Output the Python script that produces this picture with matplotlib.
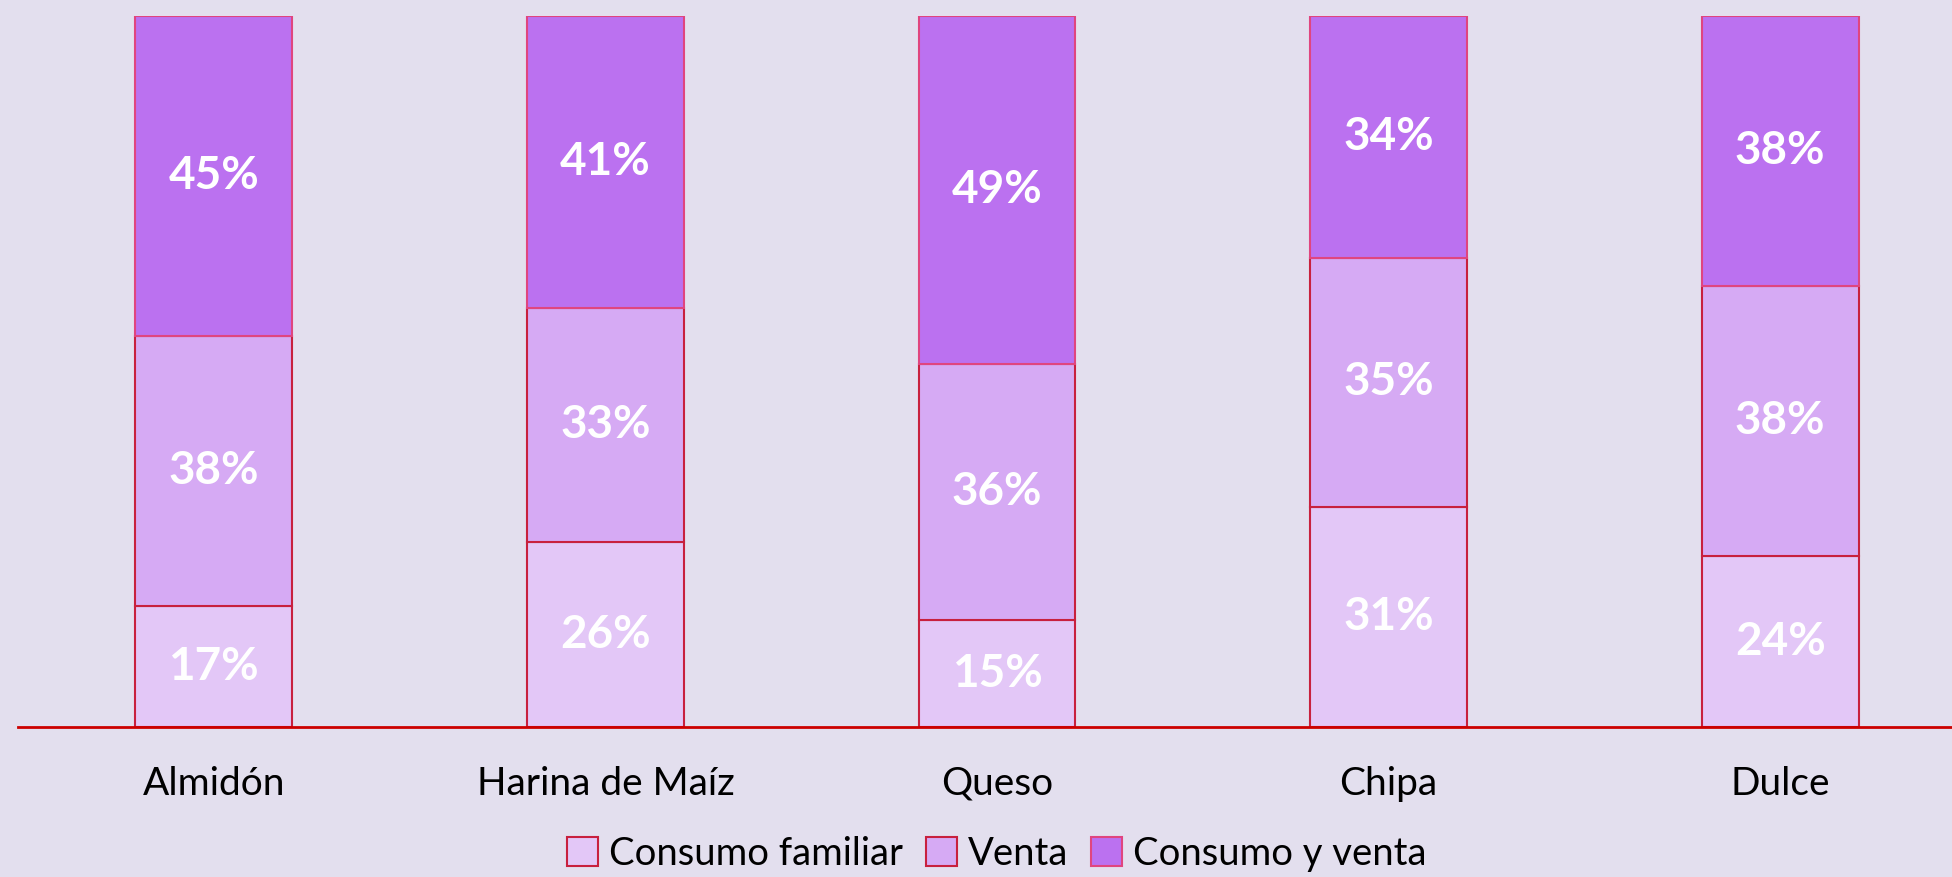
import matplotlib
matplotlib.use("Agg")
import matplotlib.pyplot as plt
import numpy as np

categories = ["Almidón", "Harina de Maíz", "Queso", "Chipa", "Dulce"]
consumo_familiar = [17, 26, 15, 31, 24]
venta = [38, 33, 36, 35, 38]
consumo_y_venta = [45, 41, 49, 34, 38]

series = [
    ("Consumo familiar", consumo_familiar, "#E3C7F7", "#C8203E"),
    ("Venta", venta, "#D6AAF4", "#C8203E"),
    ("Consumo y venta", consumo_y_venta, "#BB71F0", "#E0457F"),
]

BG = "#E3DFEE"
plt.rcParams["font.family"] = ["Lato", "DejaVu Sans"]

fig = plt.figure(figsize=(19.52, 8.77), dpi=100, facecolor=BG)
left = 18 / 1952
width = (1976 - 18) / 1952
bottom = 1 - 727 / 877
height = (727 - 16) / 877
ax = fig.add_axes([left, bottom, width, height])
ax.set_facecolor(BG)

x = np.arange(len(categories))
base = np.zeros(len(categories))
handles = []
for name, vals, color, edge in series:
    vals = np.array(vals, dtype=float)
    bars = ax.bar(x, vals, 0.4, bottom=base, color=color, edgecolor=edge,
                  linewidth=1.5, label=name)
    handles.append(bars)
    for xi, b, v in zip(x, base, vals):
        ax.text(xi, b + v / 2, f"{int(v)}%", ha="center", va="center",
                color="white", fontsize=33, fontweight="bold")
    base += vals

ax.set_xlim(-0.5, 4.5)
ax.set_ylim(0, 100)
ax.set_yticks([])
ax.set_xticks(x)
ax.set_xticklabels(categories, fontsize=28)
ax.tick_params(axis="x", length=0, pad=28)
for side in ["top", "right", "left"]:
    ax.spines[side].set_visible(False)
ax.spines["bottom"].set_color("#CC0000")
ax.spines["bottom"].set_linewidth(2)

leg = fig.legend(handles=handles, loc="center", bbox_to_anchor=(997 / 1952, 1 - 854 / 877),
                 ncol=3, frameon=False, fontsize=27.5, handlelength=0.8, handleheight=0.8,
                 handletextpad=0.3, columnspacing=0.6)

fig.savefig("out.png", dpi=100, facecolor=BG)
